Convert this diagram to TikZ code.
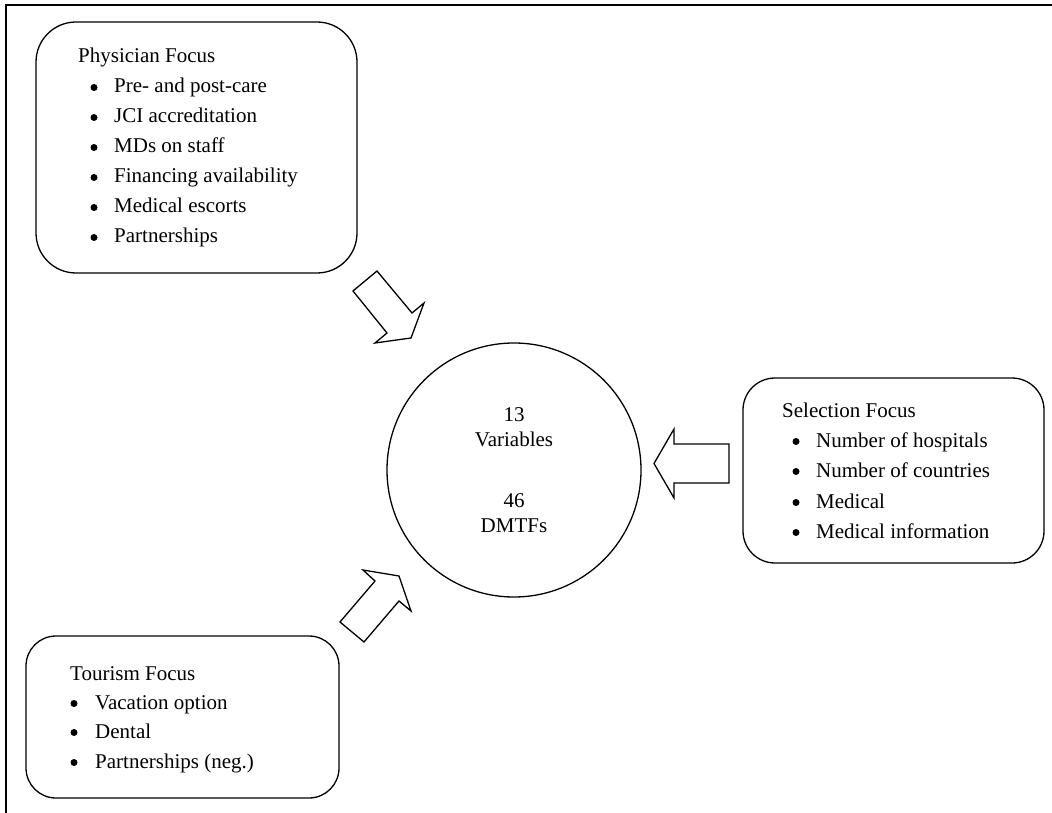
\documentclass[tikz,border=0pt]{standalone}
\usepackage{fontspec}
\setmainfont{Liberation Serif}
\newcommand\myfsz{\fontsize{21}{30}\selectfont}
\begin{document}
\begin{tikzpicture}[x=1pt,y=-1pt,
  fbox/.style={draw, line width=1.3pt, fill=white, inner sep=0pt, rectangle},
  txt/.style={anchor=base west, inner sep=0pt, font=\myfsz},
  ctxt/.style={anchor=base, inner sep=0pt, font=\myfsz},
  bul/.style={circle, fill=black, inner sep=0pt, minimum size=7pt},
  blockarrow/.style={draw, line width=1.3pt, fill=white, line join=miter}]
\useasboundingbox (0,0) rectangle (1052,813);
% frame (top and left only)
\draw[line width=2.3pt] (6,813) -- (6,5) -- (1052,5);

% boxes
\node[fbox, rounded corners=40pt, minimum width=321pt, minimum height=251pt] (phys) at (196.5,147.5) {};
\node[fbox, rounded corners=32pt, minimum width=301pt, minimum height=185pt] (sel) at (893.5,470.5) {};
\node[fbox, rounded corners=30pt, minimum width=313pt, minimum height=162pt] (tour) at (182.5,717) {};
\node[draw, circle, line width=1.3pt, minimum size=254pt, inner sep=0pt] (core) at (514,470) {};

% physician text
\node[txt] (pt) at (78,63) {Physician Focus};
\foreach \t [count=\i from 0] in {Pre- and post-care, JCI accreditation, MDs on staff, Financing availability, Medical escorts, Partnerships}{
  \node[bul] (pb\i) at (94,87.5+30*\i) {};
  \node[txt] (pl\i) at (114,93+30*\i) {\t};
}

% selection text
\node[txt] (st) at (782,417) {Selection Focus};
\foreach \t/\y [count=\i from 0] in {Number of hospitals/447, Number of countries/477, Medical/508, Medical information/538}{
  \node[bul] (sb\i) at (796,\y-5.5) {};
  \node[txt] (sl\i) at (816,\y) {\t};
}

% tourism text
\node[txt] (tt) at (70,680) {Tourism Focus};
\foreach \t/\y [count=\i from 0] in {Vacation option/709, Dental/738, Partnerships (neg.)/768}{
  \node[bul] (tb\i) at (74,\y-5.5) {};
  \node[txt] (tl\i) at (95,\y) {\t};
}

% circle text
\node[ctxt] (c1) at (514,421) {13};
\node[ctxt] (c2) at (514,446) {Variables};
\node[ctxt] (c3) at (514,507) {46};
\node[ctxt] (c4) at (514,532) {DMTFs};

% block arrows
\draw[blockarrow] (377,271) -- (353,291) -- (387,333) -- (375,343) -- (411,338) -- (424,303) -- (412,313) -- cycle;
\draw[blockarrow] (363,570) -- (399,576) -- (411,611) -- (399,601) -- (364,642) -- (340,622) -- (375,581) -- cycle;
\draw[blockarrow] (654,463.5) -- (674,429) -- (674,444) -- (729,444) -- (729,483) -- (674,483) -- (674,498) -- cycle;
\end{tikzpicture}
\end{document}
